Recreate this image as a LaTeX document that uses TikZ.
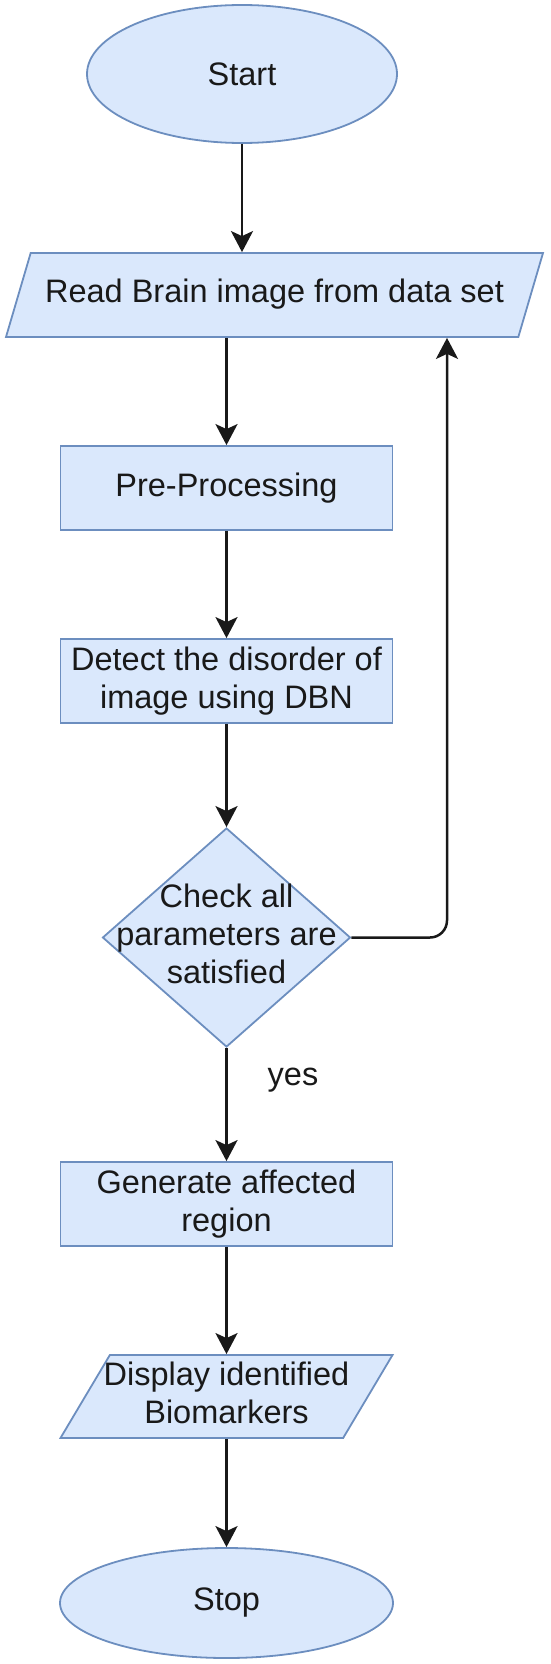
\documentclass[tikz,border=0pt]{standalone}
\usepackage{fontspec}
\setmainfont{Liberation Sans}
\usepackage{tikz}
\usetikzlibrary{shapes.geometric}
\usetikzlibrary{arrows.meta}
\definecolor{boxfill}{HTML}{DAE8FC}
\definecolor{boxline}{HTML}{6C8EBF}
\newcommand{\flowtext}[1]{\makebox[0pt]{\begin{tabular}{@{}c@{}}#1\end{tabular}}}

\begin{document}
\begin{tikzpicture}[x = 1pt, y = -1pt,
    txt/.style = {font = \fontsize{32.5}{38}\selectfont, text = black!90},
    blk/.style = {txt, draw = boxline, fill = boxfill, line width = 1.8pt, align = center, inner sep = 0pt},
    terminal/.style = {blk, ellipse},
    proc/.style = {blk, rectangle, minimum width = 332pt, minimum height = 84pt},
    io/.style = {blk, trapezium, trapezium left angle = 57, trapezium right angle = 123, trapezium stretches body},
    cond/.style = {blk, diamond, minimum width = 248pt, minimum height = 219pt},
    flow/.style = {line width = 2.5pt, black!90, -{Stealth[length = 21pt, width = 22pt, inset = 5pt]}}]
                    \useasboundingbox (0, 0) rectangle (550, 1664);

                    \node[terminal, minimum width = 310pt, minimum height = 138pt] (start) at (242, 74) {Start};
                    \node[io, minimum width = 537pt, minimum height = 84pt] (read) at (274.5, 295) {\flowtext{Read Brain image from data set}};
                    \node[proc] (pre) at (226.5, 488) {Pre-Processing};
                    \node[proc] (detect) at (226.5, 681) {Detect the disorder of\\image using DBN};
                    \node[cond] (check) at (226.5, 937.5) {\flowtext{Check all\\parameters are\\satisfied}};
                    \node[proc] (gen) at (226.5, 1204) {Generate affected\\region};
                    \node[io, minimum width = 332pt, minimum height = 83pt] (show) at (226.5, 1396.5) {\flowtext{Display identified\\Biomarkers}};
                    \node[terminal, minimum width = 333pt, minimum height = 110pt] (stop) at (226.5, 1603) {Stop};
                    \node[txt, anchor = base] (yes) at (293, 1085) {yes};
                    \coordinate (back) at (447, 295);

                    \draw[flow] (start.south) -- (start.south |- read.north);
                    \draw[flow] (pre.north |- read.south) -- (pre.north);
                    \draw[flow] (pre) -- (detect);
                    \draw[flow] (detect) -- (check);
                    \draw[flow] (check) -- (gen);
                    \draw[flow] (gen) -- (show);
                    \draw[flow] (show) -- (stop);
                    \draw[flow, rounded corners = 17pt] (check.east) -| (back |- read.south);
                \end{tikzpicture}
\end{document}
